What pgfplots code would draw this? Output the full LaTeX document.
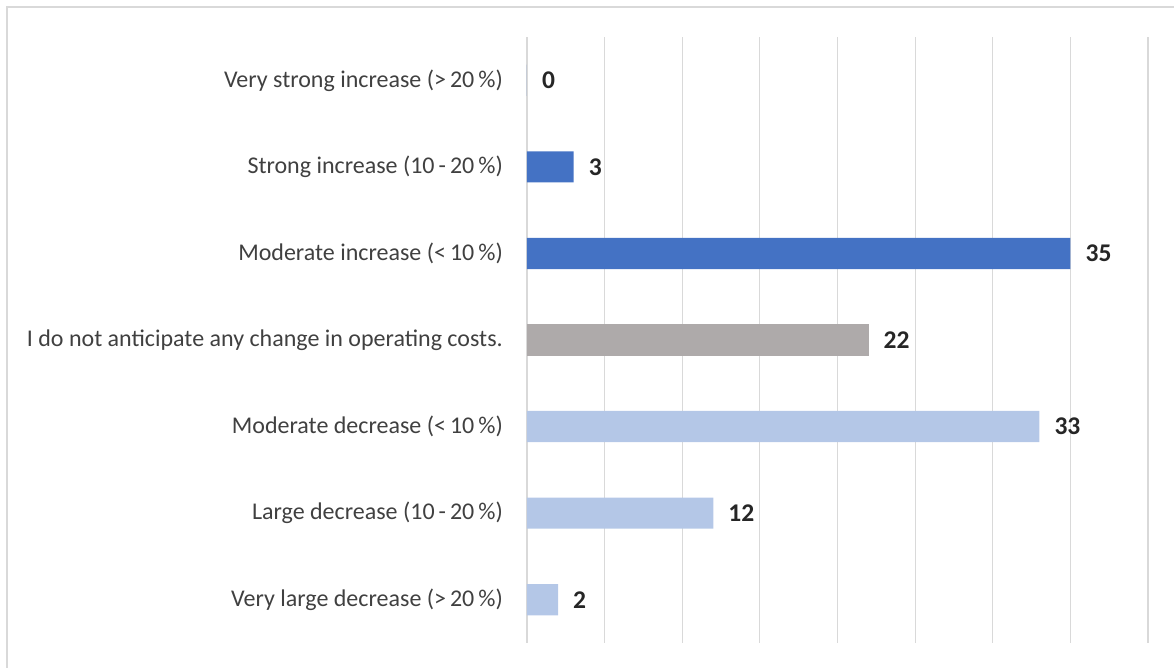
\documentclass[border=0pt]{standalone}
\usepackage{pgfplots}
\pgfplotsset{compat=1.18}
\usepackage{fontspec}
\setmainfont{Carlito}
\definecolor{incr}{HTML}{4472C4}
\definecolor{grayc}{HTML}{AEAAAA}
\definecolor{decr}{HTML}{B4C7E7}
\definecolor{gridc}{HTML}{D9D9D9}
\definecolor{txt}{HTML}{404040}
\begin{document}
\begin{tikzpicture}[x=1bp,y=1bp]
\path[use as bounding box] (-527bp,-25bp) rectangle (647bp,643bp);
\draw[gridc, line width=1.2bp] (-520bp,-25bp) -- (-520bp,636bp) -- (647bp,636bp);
\begin{axis}[
  at={(0,0)}, anchor=south west,
  scale only axis,
  width=621bp, height=606bp,
  xbar, bar shift=0pt,
  xmin=0, xmax=40,
  ymin=-0.5, ymax=6.5,
  y dir=reverse,
  xtick={0,5,...,40},
  xticklabels={},
  xmajorgrids,
  grid style={gridc, line width=1.2bp},
  axis line style={draw=none},
  major tick length=0pt,
  /pgf/number format/assume math mode=true,
  ytick={0,1,2,3,4,5,6},
  yticklabels={
    {Very strong increase (>\,20\,\%)},
    {Strong increase (10\,-\,20\,\%)},
    {Moderate increase (<\,10\,\%)},
    {I do not anticipate any change in operating costs.},
    {Moderate decrease (<\,10\,\%)},
    {Large decrease (10\,-\,20\,\%)},
    {Very large decrease (>\,20\,\%)}},
  yticklabel style={font=\fontsize{24bp}{28bp}\selectfont, text=txt, anchor=east, inner sep=0pt, xshift=-24bp},
  bar width=0.36,
  nodes near coords,
  every node near coord/.append style={font=\bfseries\fontsize{25.5bp}{30bp}\selectfont, text=black!85, anchor=west, inner sep=0pt, xshift=15bp},
]
\addplot[fill=incr, draw=none] coordinates {(0,0) (3,1) (35,2)};
\addplot[fill=grayc, draw=none] coordinates {(22,3)};
\addplot[fill=decr, draw=none] coordinates {(33,4) (12,5) (2,6)};
\end{axis}
\end{tikzpicture}
\end{document}
